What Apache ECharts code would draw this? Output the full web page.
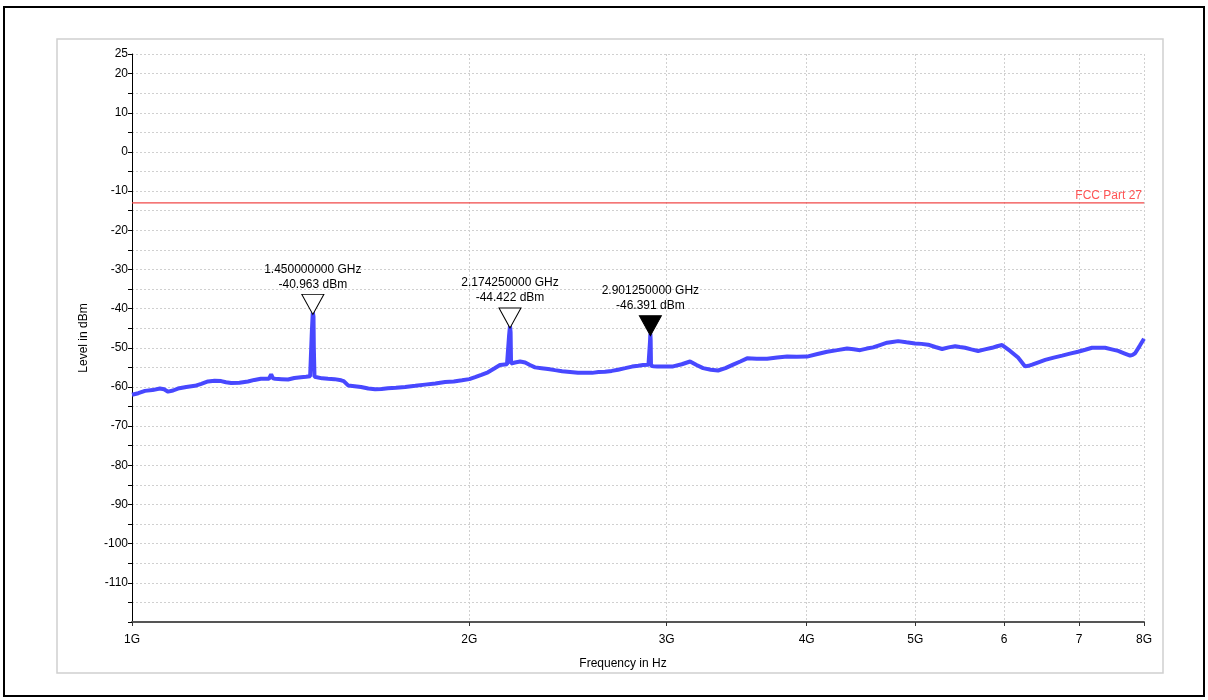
<!DOCTYPE html>
<html lang="en">
  <head>
    <meta charset="UTF-8" />
    <script src="https://cdn.jsdelivr.net/npm/echarts@6/dist/echarts.min.js"></script>
    <title>Spurious emissions 1-8 GHz</title>
    <style>
      html, body { margin: 0; padding: 0; background: #fff; }
    </style>
  </head>
  <body>
    <div id="main" style="width: 1208px; height: 700px"></div>
    <script>
      // trace (GHz, dBm)
      var freqGHz = [
        1.000, 1.013, 1.027, 1.043, 1.059, 1.068, 1.077, 1.088, 1.099, 1.118,
        1.138, 1.153, 1.169, 1.185, 1.201, 1.213, 1.226, 1.247, 1.269, 1.286,
        1.303, 1.325, 1.331, 1.336, 1.342, 1.360, 1.378, 1.396, 1.415, 1.430,
        1.442, 1.446, 1.447, 1.449, 1.450, 1.452, 1.453, 1.455, 1.460, 1.478,
        1.496, 1.516, 1.537, 1.545, 1.559, 1.580, 1.601, 1.625, 1.648, 1.670,
        1.692, 1.720, 1.753, 1.790, 1.826, 1.865, 1.903, 1.937, 1.970, 2.000,
        2.024, 2.050, 2.078, 2.105, 2.130, 2.161, 2.168, 2.170, 2.17425, 2.177,
        2.179, 2.197, 2.220, 2.243, 2.265, 2.289, 2.320, 2.351, 2.385, 2.420,
        2.460, 2.500, 2.537, 2.574, 2.608, 2.643, 2.680, 2.715, 2.755, 2.794,
        2.830, 2.858, 2.890, 2.897, 2.899, 2.90125, 2.903, 2.905, 2.920, 2.942,
        2.990, 3.040, 3.095, 3.148, 3.190, 3.233, 3.285, 3.334, 3.385, 3.439,
        3.490, 3.539, 3.610, 3.688, 3.765, 3.843, 3.920, 4.003, 4.090, 4.172,
        4.260, 4.346, 4.405, 4.464, 4.525, 4.585, 4.650, 4.719, 4.770, 4.827,
        4.910, 4.998, 5.065, 5.134, 5.210, 5.284, 5.355, 5.427, 5.480, 5.539,
        5.610, 5.689, 5.770, 5.855, 5.915, 5.977, 6.076, 6.176, 6.266, 6.310,
        6.357, 6.440, 6.530, 6.645, 6.761, 6.870, 6.986, 7.090, 7.190, 7.290,
        7.385, 7.486, 7.586, 7.680, 7.775, 7.815, 7.855, 7.930, 8.000
      ];
      var levelDbm = [
        -62.0, -61.6, -61.0, -60.8, -60.4, -60.6, -61.2, -60.9, -60.4, -60.0,
        -59.7, -59.2, -58.6, -58.4, -58.5, -58.8, -59.0, -58.9, -58.6, -58.2,
        -57.9, -57.9, -56.8, -57.8, -57.9, -58.0, -58.1, -57.7, -57.5, -57.4,
        -57.25, -57.0, -46.0, -42.5, -40.963, -42.0, -50.0, -57.4, -57.75, -57.8,
        -57.9, -58.0, -58.3, -58.5, -59.6, -59.8, -60.0, -60.4, -60.6, -60.5,
        -60.3, -60.2, -60.0, -59.7, -59.4, -59.1, -58.75, -58.6, -58.3, -58.0,
        -57.5, -56.9, -56.25, -55.3, -54.4, -54.2, -54.0, -47.0, -44.422, -46.0,
        -54.0, -53.75, -53.5, -53.75, -54.4, -55.0, -55.2, -55.4, -55.7, -56.0,
        -56.2, -56.4, -56.4, -56.4, -56.2, -56.1, -55.9, -55.6, -55.2, -54.8,
        -54.6, -54.4, -54.3, -54.2, -48.5, -46.391, -48.0, -54.6, -54.7, -54.75,
        -54.8, -54.75, -54.2, -53.5, -54.4, -55.2, -55.6, -55.8, -55.2, -54.3,
        -53.5, -52.7, -52.8, -52.8, -52.5, -52.25, -52.3, -52.25, -51.6, -51.0,
        -50.6, -50.2, -50.4, -50.6, -50.2, -49.9, -49.3, -48.7, -48.5, -48.3,
        -48.6, -48.9, -49.0, -49.2, -49.8, -50.3, -49.9, -49.6, -49.8, -50.0,
        -50.4, -50.8, -50.4, -50.0, -49.6, -49.3, -50.8, -52.5, -54.75, -54.6,
        -54.3, -53.7, -53.1, -52.5, -52.0, -51.5, -51.0, -50.5, -50.0, -50.0,
        -50.0, -50.4, -50.8, -51.4, -52.0, -51.8, -51.4, -49.5, -47.7
      ];

      // markers
      var markerFreq = [1.45, 2.17425, 2.90125];
      var markerLevel = [-40.963, -44.422, -46.391];
      var markerFreqText = ["1.450000000 GHz", "2.174250000 GHz", "2.901250000 GHz"];
      var markerLevelText = ["-40.963 dBm", "-44.422 dBm", "-46.391 dBm"];
      var markerFilled = [false, false, true];

      // limit line
      var limitFreq = [1, 8];
      var limitLevel = -13;
      var limitName = "FCC Part 27";

      // axis ticks
      var xTicks = [1, 2, 3, 4, 5, 6, 7, 8];
      var xTickLabels = ["1G", "2G", "3G", "4G", "5G", "6", "7", "8G"];
      var yMin = -120, yMax = 25;

      var FONT = "Liberation Sans, Arial, sans-serif";
      var GRID_LINE = { color: "#d0d0d0", type: [2, 2], width: 1 };

      var traceData = freqGHz.map(function (f, i) {
        return [f, levelDbm[i]];
      });
      var limitData = limitFreq.map(function (f) {
        return [f, limitLevel];
      });

      var markData = markerFreq.map(function (f, i) {
        return {
          coord: [f, markerLevel[i]],
          value: markerFreqText[i] + "\n" + markerLevelText[i],
          itemStyle: {
            color: markerFilled[i] ? "#000" : "#fff",
            borderColor: "#000",
            borderWidth: 1,
          },
        };
      });

      var chart = echarts.init(document.getElementById("main"));

      var option = {
        animation: false,
        textStyle: { fontFamily: FONT },
        graphic: [
          {
            type: "rect",
            z: -10,
            shape: { x: 4, y: 7, width: 1200, height: 689 },
            style: { fill: "none", stroke: "#000", lineWidth: 2 },
          },
          {
            type: "rect",
            z: -10,
            shape: { x: 57, y: 39, width: 1106, height: 634 },
            style: { fill: "none", stroke: "#d0d0d0", lineWidth: 1.5 },
          },
        ],
        grid: { left: 132, right: 64, top: 54, bottom: 78 },
        xAxis: {
          type: "log",
          logBase: 2,
          min: 1,
          max: 8,
          name: "Frequency in Hz",
          nameLocation: "middle",
          nameGap: 36,
          nameTextStyle: {
            color: "#000",
            fontSize: 12,
            fontFamily: FONT,
            padding: [0, 30, 0, 0],
          },
          axisLine: { onZero: false, lineStyle: { color: "#555", width: 2 } },
          axisTick: {
            customValues: xTicks,
            length: 4,
            lineStyle: { color: "#333" },
          },
          axisLabel: {
            customValues: xTicks,
            margin: 12,
            color: "#000",
            fontSize: 12,
            fontFamily: FONT,
            formatter: function (v) {
              var i = xTicks.indexOf(Math.round(v));
              return i >= 0 ? xTickLabels[i] : "";
            },
          },
          splitLine: { show: true, lineStyle: GRID_LINE },
        },
        yAxis: {
          type: "value",
          min: yMin,
          max: yMax,
          interval: 5,
          name: "Level in dBm",
          nameLocation: "middle",
          nameGap: 42,
          nameTextStyle: { color: "#000", fontSize: 12, fontFamily: FONT },
          axisLine: { show: true, lineStyle: { color: "#000", width: 1 } },
          axisTick: { show: true, length: 4, lineStyle: { color: "#000" } },
          axisLabel: {
            color: "#000",
            fontSize: 12,
            fontFamily: FONT,
            margin: 4,
            formatter: function (v) {
              if (v === yMax) return String(v);
              if (v !== yMin && v % 10 === 0) return String(v);
              return "";
            },
          },
          splitLine: { show: true, lineStyle: GRID_LINE },
        },
        series: [
          {
            name: limitName,
            type: "line",
            data: limitData,
            symbol: "none",
            silent: true,
            z: 2,
            lineStyle: { color: "#f04848", width: 1.2 },
            itemStyle: { color: "#f04848" },
            endLabel: {
              show: true,
              formatter: limitName,
              color: "#f55",
              fontSize: 12,
              fontFamily: FONT,
              align: "right",
              verticalAlign: "bottom",
              distance: 0,
              offset: [-2, -1],
            },
          },
          {
            type: "line",
            data: traceData,
            showSymbol: false,
            symbol: "none",
            lineStyle: { color: "#4848ff", width: 4 },
            z: 3,
            markPoint: {
              silent: true,
              symbol: "triangle",
              symbolRotate: 180,
              symbolSize: [22, 20],
              symbolOffset: [0, -8],
              label: {
                show: true,
                position: "top",
                distance: 2,
                color: "#000",
                fontSize: 12,
                lineHeight: 15,
                fontFamily: FONT,
                formatter: function (p) {
                  return p.data.value;
                },
              },
              data: markData,
            },
          },
        ],
      };

      chart.setOption(option);
    </script>
  </body>
</html>
